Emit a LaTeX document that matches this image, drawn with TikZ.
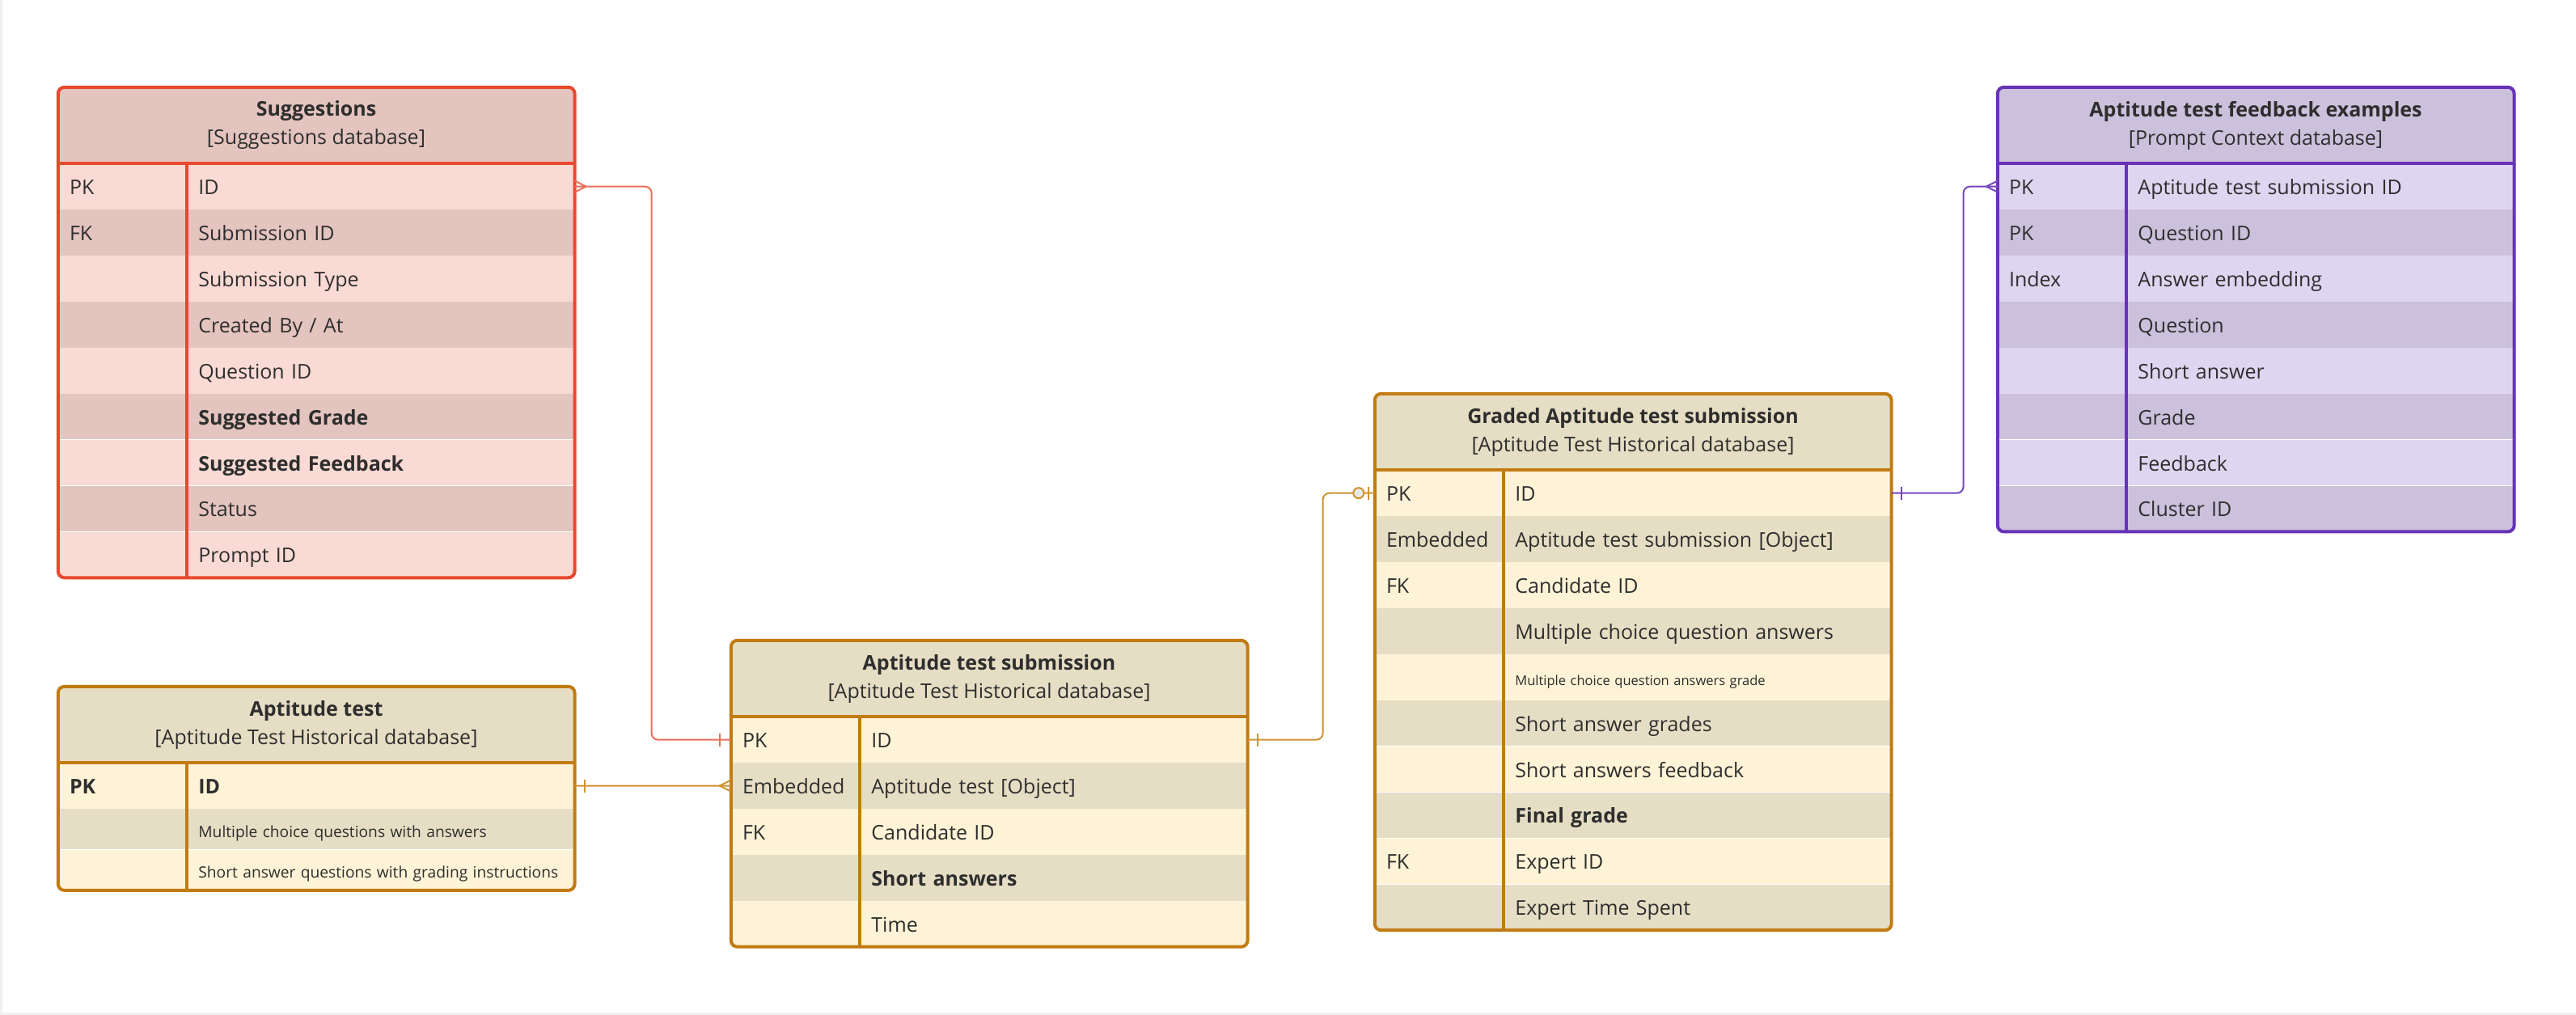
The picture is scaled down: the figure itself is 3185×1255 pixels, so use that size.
\documentclass[tikz,border=0pt]{standalone}
\usepackage{fontspec}
\setmainfont{Open Sans}
\usepackage{tikz}
\usetikzlibrary{positioning,calc}

\definecolor{txt}{HTML}{2E2E2E}
\definecolor{sugline}{HTML}{E8492C}
\definecolor{sugdark}{HTML}{E4C4BF}
\definecolor{suglite}{HTML}{FADAD4}
\definecolor{sugconn}{HTML}{E8705C}
\definecolor{orline}{HTML}{C27B12}
\definecolor{ordark}{HTML}{E6DEC4}
\definecolor{orlite}{HTML}{FEF3D6}
\definecolor{orconn}{HTML}{D0922F}
\definecolor{puline}{HTML}{6832B8}
\definecolor{pudark}{HTML}{CBC1DC}
\definecolor{pulite}{HTML}{DED5F0}
\definecolor{puconn}{HTML}{7446C2}
\definecolor{ringfill}{HTML}{E8E8EE}

\newcommand\rowsize{\fontsize{25}{35}\selectfont}
\newcommand\smallrow{\fontsize{19.2}{22}\selectfont}
\newcommand\tinyrow{\fontsize{16.5}{20}\selectfont}

\tikzset{
  hdr/.style={rectangle, minimum width=638pt, minimum height=94pt, inner sep=0pt,
    align=center, text=txt, font=\rowsize},
  keycell/.style={rectangle, minimum width=159pt, minimum height=56.5pt, text width=131pt,
    inner xsep=14pt, inner ysep=0pt, text height=20pt, text depth=0pt, align=left,
    text=txt, font=\rowsize},
  fieldcell/.style={keycell, minimum width=479pt, text width=451pt},
  lowrow/.style={minimum height=50pt},
  border/.style={line width=4pt},
  rel/.style={line width=2pt},
}

\begin{document}
\begin{tikzpicture}[x=1pt,y=-1pt]
  \useasboundingbox (0,0) rectangle (3185,1255);
  \draw[line width=3pt, black!6] (1.5,0) -- (1.5,1253.5) -- (3185,1253.5);

  % Suggestions
  \node[hdr, fill=sugdark] at (391,155) (sugg) {\textbf{Suggestions}\\{}[Suggestions database]};
  \node[keycell, fill=suglite, below right=0pt of sugg.south west] (sugg-k1) {PK};
  \node[fieldcell, fill=suglite, right=0pt of sugg-k1] (sugg-f1) {ID};
  \node[keycell, fill=sugdark, below=0pt of sugg-k1] (sugg-k2) {FK};
  \node[fieldcell, fill=sugdark, right=0pt of sugg-k2] (sugg-f2) {Submission ID};
  \node[keycell, fill=suglite, below=0pt of sugg-k2] (sugg-k3) {};
  \node[fieldcell, fill=suglite, right=0pt of sugg-k3] (sugg-f3) {Submission Type};
  \node[keycell, fill=sugdark, below=0pt of sugg-k3] (sugg-k4) {};
  \node[fieldcell, fill=sugdark, right=0pt of sugg-k4] (sugg-f4) {Created By / At};
  \node[keycell, fill=suglite, below=0pt of sugg-k4] (sugg-k5) {};
  \node[fieldcell, fill=suglite, right=0pt of sugg-k5] (sugg-f5) {Question ID};
  \node[keycell, fill=sugdark, below=0pt of sugg-k5] (sugg-k6) {};
  \node[fieldcell, fill=sugdark, right=0pt of sugg-k6] (sugg-f6) {\textbf{Suggested Grade}};
  \node[keycell, fill=suglite, below=0pt of sugg-k6] (sugg-k7) {};
  \node[fieldcell, fill=suglite, right=0pt of sugg-k7] (sugg-f7) {\textbf{Suggested Feedback}};
  \node[keycell, fill=sugdark, below=0pt of sugg-k7] (sugg-k8) {};
  \node[fieldcell, fill=sugdark, right=0pt of sugg-k8] (sugg-f8) {Status};
  \node[keycell, fill=suglite, below=0pt of sugg-k8] (sugg-k9) {};
  \node[fieldcell, fill=suglite, right=0pt of sugg-k9] (sugg-f9) {Prompt ID};
  \draw[border, sugline] (sugg.south west) -- (sugg.south east);
  \draw[border, sugline] (sugg-k1.north east) -- (sugg-k9.south east);
  \draw[border, sugline, rounded corners=8pt] (sugg.north west) rectangle (sugg-f9.south east);

  % Aptitude test
  \node[hdr, fill=ordark] at (391,896) (apt) {\textbf{Aptitude test}\\{}[Aptitude Test Historical database]};
  \node[keycell, fill=orlite, below right=0pt of apt.south west] (apt-k1) {\textbf{PK}};
  \node[fieldcell, fill=orlite, right=0pt of apt-k1] (apt-f1) {\textbf{ID}};
  \node[keycell, lowrow, fill=ordark, below=0pt of apt-k1] (apt-k2) {};
  \node[fieldcell, lowrow, fill=ordark, font=\smallrow, right=0pt of apt-k2] (apt-f2) {Multiple choice questions with answers};
  \node[keycell, lowrow, fill=orlite, below=0pt of apt-k2] (apt-k3) {};
  \node[fieldcell, lowrow, fill=orlite, font=\smallrow, right=0pt of apt-k3] (apt-f3) {Short answer questions with grading instructions};
  \draw[border, orline] (apt.south west) -- (apt.south east);
  \draw[border, orline] (apt-k1.north east) -- (apt-k3.south east);
  \draw[border, orline, rounded corners=8pt] (apt.north west) rectangle (apt-f3.south east);

  % Aptitude test submission
  \node[hdr, fill=ordark] at (1223,839) (sub) {\textbf{Aptitude test submission}\\{}[Aptitude Test Historical database]};
  \node[keycell, fill=orlite, below right=0pt of sub.south west] (sub-k1) {PK};
  \node[fieldcell, fill=orlite, right=0pt of sub-k1] (sub-f1) {ID};
  \node[keycell, fill=ordark, below=0pt of sub-k1] (sub-k2) {Embedded};
  \node[fieldcell, fill=ordark, right=0pt of sub-k2] (sub-f2) {Aptitude test [Object]};
  \node[keycell, fill=orlite, below=0pt of sub-k2] (sub-k3) {FK};
  \node[fieldcell, fill=orlite, right=0pt of sub-k3] (sub-f3) {Candidate ID};
  \node[keycell, fill=ordark, below=0pt of sub-k3] (sub-k4) {};
  \node[fieldcell, fill=ordark, right=0pt of sub-k4] (sub-f4) {\textbf{Short answers}};
  \node[keycell, fill=orlite, below=0pt of sub-k4] (sub-k5) {};
  \node[fieldcell, fill=orlite, right=0pt of sub-k5] (sub-f5) {Time};
  \draw[border, orline] (sub.south west) -- (sub.south east);
  \draw[border, orline] (sub-k1.north east) -- (sub-k5.south east);
  \draw[border, orline, rounded corners=8pt] (sub.north west) rectangle (sub-f5.south east);

  % Graded Aptitude test submission
  \node[hdr, fill=ordark] at (2019,534) (grd) {\textbf{Graded Aptitude test submission}\\{}[Aptitude Test Historical database]};
  \node[keycell, fill=orlite, below right=0pt of grd.south west] (grd-k1) {PK};
  \node[fieldcell, fill=orlite, right=0pt of grd-k1] (grd-f1) {ID};
  \node[keycell, fill=ordark, below=0pt of grd-k1] (grd-k2) {Embedded};
  \node[fieldcell, fill=ordark, right=0pt of grd-k2] (grd-f2) {Aptitude test submission [Object]};
  \node[keycell, fill=orlite, below=0pt of grd-k2] (grd-k3) {FK};
  \node[fieldcell, fill=orlite, right=0pt of grd-k3] (grd-f3) {Candidate ID};
  \node[keycell, fill=ordark, below=0pt of grd-k3] (grd-k4) {};
  \node[fieldcell, fill=ordark, right=0pt of grd-k4] (grd-f4) {Multiple choice question answers};
  \node[keycell, fill=orlite, below=0pt of grd-k4] (grd-k5) {};
  \node[fieldcell, fill=orlite, font=\tinyrow, right=0pt of grd-k5] (grd-f5) {Multiple choice question answers grade};
  \node[keycell, fill=ordark, below=0pt of grd-k5] (grd-k6) {};
  \node[fieldcell, fill=ordark, right=0pt of grd-k6] (grd-f6) {Short answer grades};
  \node[keycell, fill=orlite, below=0pt of grd-k6] (grd-k7) {};
  \node[fieldcell, fill=orlite, right=0pt of grd-k7] (grd-f7) {Short answers feedback};
  \node[keycell, fill=ordark, below=0pt of grd-k7] (grd-k8) {};
  \node[fieldcell, fill=ordark, right=0pt of grd-k8] (grd-f8) {\textbf{Final grade}};
  \node[keycell, fill=orlite, below=0pt of grd-k8] (grd-k9) {FK};
  \node[fieldcell, fill=orlite, right=0pt of grd-k9] (grd-f9) {Expert ID};
  \node[keycell, fill=ordark, below=0pt of grd-k9] (grd-k10) {};
  \node[fieldcell, fill=ordark, right=0pt of grd-k10] (grd-f10) {Expert Time Spent};
  \draw[border, orline] (grd.south west) -- (grd.south east);
  \draw[border, orline] (grd-k1.north east) -- (grd-k10.south east);
  \draw[border, orline, rounded corners=8pt] (grd.north west) rectangle (grd-f10.south east);

  % Aptitude test feedback examples
  \node[hdr, fill=pudark] at (2789,155) (fb) {\textbf{Aptitude test feedback examples}\\{}[Prompt Context database]};
  \node[keycell, fill=pulite, below right=0pt of fb.south west] (fb-k1) {PK};
  \node[fieldcell, fill=pulite, right=0pt of fb-k1] (fb-f1) {Aptitude test submission ID};
  \node[keycell, fill=pudark, below=0pt of fb-k1] (fb-k2) {PK};
  \node[fieldcell, fill=pudark, right=0pt of fb-k2] (fb-f2) {Question ID};
  \node[keycell, fill=pulite, below=0pt of fb-k2] (fb-k3) {Index};
  \node[fieldcell, fill=pulite, right=0pt of fb-k3] (fb-f3) {Answer embedding};
  \node[keycell, fill=pudark, below=0pt of fb-k3] (fb-k4) {};
  \node[fieldcell, fill=pudark, right=0pt of fb-k4] (fb-f4) {Question};
  \node[keycell, fill=pulite, below=0pt of fb-k4] (fb-k5) {};
  \node[fieldcell, fill=pulite, right=0pt of fb-k5] (fb-f5) {Short answer};
  \node[keycell, fill=pudark, below=0pt of fb-k5] (fb-k6) {};
  \node[fieldcell, fill=pudark, right=0pt of fb-k6] (fb-f6) {Grade};
  \node[keycell, fill=pulite, below=0pt of fb-k6] (fb-k7) {};
  \node[fieldcell, fill=pulite, right=0pt of fb-k7] (fb-f7) {Feedback};
  \node[keycell, fill=pudark, below=0pt of fb-k7] (fb-k8) {};
  \node[fieldcell, fill=pudark, right=0pt of fb-k8] (fb-f8) {Cluster ID};
  \draw[border, puline] (fb.south west) -- (fb.south east);
  \draw[border, puline] (fb-k1.north east) -- (fb-k8.south east);
  \draw[border, puline, rounded corners=8pt] (fb.north west) rectangle (fb-f8.south east);

  % relations
  \draw[rel, sugconn, rounded corners=8pt] (sugg-f1.east) -- ++(95,0) |- (sub-k1.west);
  \draw[rel, sugconn] ($(sugg-f1.east)+(0,-7)$) -- ++(14,7) -- ++(-14,7);
  \draw[rel, sugconn] ($(sub-k1.west)+(-14,-8)$) -- ++(0,16);

  \draw[rel, orconn] (apt-f1.east) -- (sub-k2.west);
  \draw[rel, orconn] ($(apt-f1.east)+(12,-8)$) -- ++(0,16);
  \draw[rel, orconn] ($(sub-k2.west)+(0,-7)$) -- ++(-14,7) -- ++(14,7);

  \draw[rel, orconn, rounded corners=8pt] (sub-f1.east) -- ++(93,0) |- (grd-k1.west);
  \draw[rel, orconn] ($(sub-f1.east)+(12,-8)$) -- ++(0,16);
  \draw[rel, orconn] ($(grd-k1.west)+(-8,-8)$) -- ++(0,16);
  \draw[rel, orconn, fill=ringfill] ($(grd-k1.west)+(-20,0)$) circle (6.5pt);

  \draw[rel, puconn, rounded corners=8pt] (grd-f1.east) -- ++(89,0) |- (fb-k1.west);
  \draw[rel, puconn] ($(grd-f1.east)+(12,-8)$) -- ++(0,16);
  \draw[rel, puconn] ($(fb-k1.west)+(0,-7)$) -- ++(-14,7) -- ++(14,7);
\end{tikzpicture}
\end{document}
